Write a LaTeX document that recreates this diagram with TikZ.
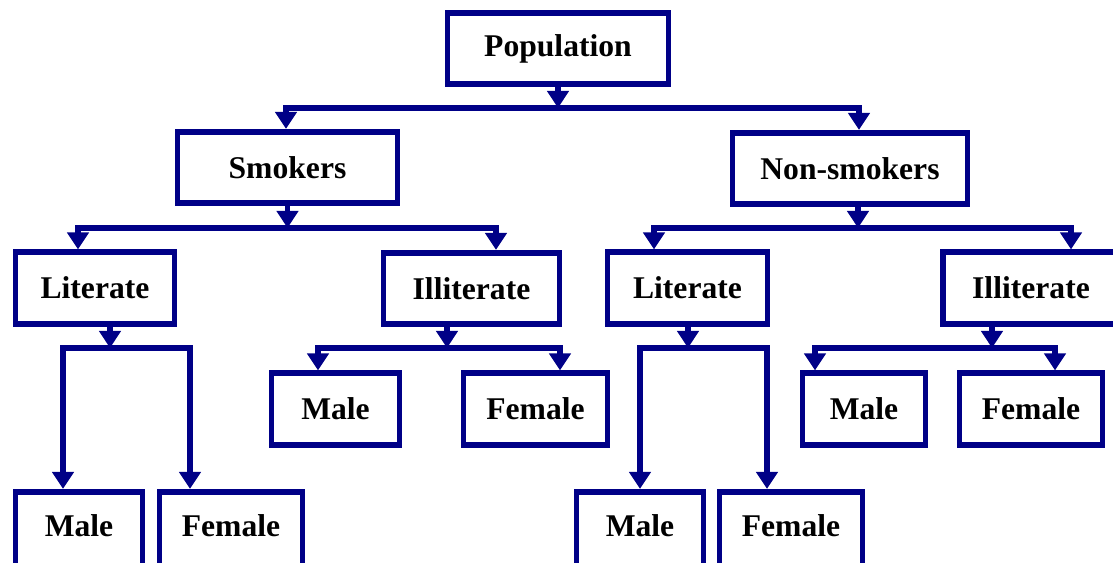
\documentclass[tikz,border=0pt]{standalone}
\usepackage{fontspec}
\setmainfont{Liberation Serif}
\usetikzlibrary{arrows.meta}
\definecolor{navyb}{RGB}{0,0,135}
\tikzset{
    box/.style = {rectangle, draw=navyb, line width=3.2pt, minimum height=1.43cm, inner sep=0pt, font=\fontsize{18}{21}\selectfont\bfseries},
    boxlow/.style = {box, minimum height=1.55cm, text depth=0.2cm},
    edgen/.style = {-{Triangle[length=0.34cm,width=0.42cm]}, line width=3.2pt, navyb}, % down
    edgep/.style = {{Triangle[length=0.34cm,width=0.42cm]}-{Triangle[length=0.34cm,width=0.42cm]}, line width=3.2pt, navyb}, % split
}

\begin{document}
\begin{tikzpicture}[x=0.02cm, y=-0.02cm]
  \path[use as bounding box] (0,0) rectangle (1113,563);
  \clip (0,0) rectangle (1113,563);

  \node (pop) at (558,48.5) [box, minimum width=4.42cm] {Population};
  \node (smk) at (287.5,167.5) [box, minimum width=4.40cm] {Smokers};
  \node (non) at (850,168.5) [box, minimum width=4.70cm] {Non-smokers};
  \node (litS) at (95,288) [box, minimum width=3.18cm] {Literate};
  \node (illS) at (471.5,288.5) [box, minimum width=3.52cm] {Illiterate};
  \node (litN) at (687.5,288) [box, minimum width=3.20cm] {Literate};
  \node (illN) at (1031,288) [box, minimum width=3.52cm] {Illiterate};
  \node (maleLS) at (79,530.5) [boxlow, minimum width=2.54cm] {Male};
  \node (femLS) at (231,530.5) [boxlow, minimum width=2.86cm] {Female};
  \node (maleIS) at (335.5,409) [box, minimum width=2.56cm] {Male};
  \node (femIS) at (535.5,409) [box, minimum width=2.88cm] {Female};
  \node (maleLN) at (640,530.5) [boxlow, minimum width=2.54cm] {Male};
  \node (femLN) at (791,530.5) [boxlow, minimum width=2.86cm] {Female};
  \node (maleIN) at (864,409) [box, minimum width=2.46cm] {Male};
  \node (femIN) at (1031,409) [box, minimum width=2.86cm] {Female};

  % population
  \coordinate (popL) at (286,108);
  \coordinate (popR) at (859,108);
  \draw[edgen] (pop) -- (pop |- popL);
  \draw[edgep] (popL |- smk.north) -- (popL) -- (popR) -- (popR |- non.north);

  % smokers
  \coordinate (smkL) at (78,228);
  \coordinate (smkR) at (496,228);
  \draw[edgen] (smk) -- (smk |- smkL);
  \draw[edgep] (smkL |- litS.north) -- (smkL) -- (smkR) -- (smkR |- illS.north);

  % non-smokers
  \coordinate (nonA) at (858,228);
  \coordinate (nonL) at (654,228);
  \coordinate (nonR) at (1071,228);
  \draw[edgen] (nonA |- non.south) -- (nonA);
  \draw[edgep] (nonL |- litN.north) -- (nonL) -- (nonR) -- (nonR |- illN.north);

  % literate / illiterate
  \coordinate (litSA) at (110,348);
  \coordinate (litSL) at (63,348);
  \coordinate (litSR) at (190,348);
  \draw[edgen] (litSA |- litS.south) -- (litSA);
  \draw[edgep] (litSL |- maleLS.north) -- (litSL) -- (litSR) -- (litSR |- femLS.north);

  \coordinate (illSA) at (447,348);
  \coordinate (illSL) at (318,348);
  \coordinate (illSR) at (560,348);
  \draw[edgen] (illSA |- illS.south) -- (illSA);
  \draw[edgep] (illSL |- maleIS.north) -- (illSL) -- (illSR) -- (illSR |- femIS.north);

  \coordinate (litNA) at (688,348);
  \coordinate (litNL) at (640,348);
  \coordinate (litNR) at (767,348);
  \draw[edgen] (litNA |- litN.south) -- (litNA);
  \draw[edgep] (litNL |- maleLN.north) -- (litNL) -- (litNR) -- (litNR |- femLN.north);

  \coordinate (illNA) at (992,348);
  \coordinate (illNL) at (815,348);
  \coordinate (illNR) at (1055,348);
  \draw[edgen] (illNA |- illN.south) -- (illNA);
  \draw[edgep] (illNL |- maleIN.north) -- (illNL) -- (illNR) -- (illNR |- femIN.north);
\end{tikzpicture}
\end{document}
